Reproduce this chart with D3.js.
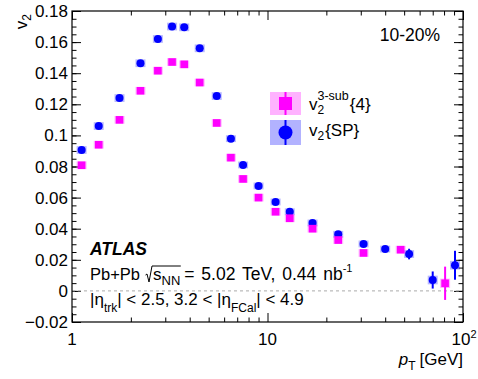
<!DOCTYPE html>
<html>
<head>
  <meta charset="utf-8">
  <title></title>
  <style>
    body,html{
      margin:0;
      padding:0;
      background:#fff;
    }
    text{
      font-family: "Liberation Sans", Arial, Helvetica, sans-serif;
      fill:#000;
    }
  </style>
</head>
<body>
  <div id="container"></div>
  <script src="https://d3js.org/d3.v7.min.js"></script>
  <script type="text/javascript">

    // v2{SP}
    var ptSP   = [1.12, 1.37, 1.75, 2.24, 2.75, 3.25, 3.75, 4.5, 5.5, 6.5, 7.5, 9.0, 11.0, 13.0, 17.0, 23.0, 31.0, 40.0, 53.0, 70.0, 91.0];
    var v2SP   = [0.0906, 0.106, 0.124, 0.1464, 0.162, 0.170, 0.1695, 0.156, 0.1253, 0.0979, 0.081, 0.0675, 0.0572, 0.0509, 0.0437, 0.0364, 0.0302, 0.0269, 0.0237, 0.0070, 0.0165];
    var statSP = [0.0003, 0.0003, 0.0003, 0.0003, 0.0003, 0.0003, 0.0003, 0.0003, 0.0003, 0.0003, 0.0003, 0.0004, 0.0004, 0.0005, 0.0005, 0.0007, 0.0009, 0.0012, 0.0034, 0.0055, 0.0093];
    var sysSP  = [0.0025, 0.0025, 0.0025, 0.0025, 0.0025, 0.0025, 0.0025, 0.0025, 0.0025, 0.0022, 0.0022, 0.0022, 0.0022, 0.0022, 0.0022, 0.0022, 0.0022, 0.0022, 0.0025, 0.0028, 0.0028];

    // v2^{3-sub}{4}
    var pt4    = [1.12, 1.37, 1.75, 2.24, 2.75, 3.25, 3.75, 4.5, 5.5, 6.5, 7.5, 9.0, 11.0, 13.0, 17.0, 23.0, 31.0, 48.0, 81.0];
    var v24    = [0.0808, 0.094, 0.110, 0.1287, 0.1416, 0.1472, 0.1457, 0.134, 0.108, 0.0857, 0.072, 0.060, 0.0509, 0.0467, 0.040, 0.0327, 0.0244, 0.0265, 0.0049];
    var stat4  = [0.0003, 0.0003, 0.0003, 0.0003, 0.0003, 0.0003, 0.0003, 0.0003, 0.0003, 0.0003, 0.0004, 0.0004, 0.0005, 0.0005, 0.0006, 0.0008, 0.0010, 0.0015, 0.0107];
    var sys4   = [0.0025, 0.0025, 0.0025, 0.0025, 0.0025, 0.0025, 0.0025, 0.0025, 0.0025, 0.0025, 0.0025, 0.0025, 0.0025, 0.0025, 0.0025, 0.0025, 0.0025, 0.0025, 0.0030];

    var yMajor = [-0.02, 0, 0.02, 0.04, 0.06, 0.08, 0.1, 0.12, 0.14, 0.16, 0.18];
    var yLabels = ['\u22120.02', '0', '0.02', '0.04', '0.06', '0.08', '0.1', '0.12', '0.14', '0.16', '0.18'];
    var xMajor = [1, 10, 100];
    var xMinor = [2, 3, 4, 5, 6, 7, 8, 9, 20, 30, 40, 50, 60, 70, 80, 90];

    var W = 478, H = 379;
    var padL = 72, padR = 463, padT = 11, padB = 322;
    var fs = 17;

    var svg = d3.select('#container').append('svg').attr('width', W).attr('height', H);

    var x = d3.scaleLog().domain([1, 100]).range([padL, padR]);
    var y = d3.scaleLinear().domain([-0.02, 0.18]).range([padB, padT]);

    var yMinor = d3.range(-0.02, 0.1801, 0.005).map(function(d){ return +d.toFixed(3); });

    // ticks, all four sides, pointing inward
    function tickAxis(axis, tr, vals, size){
      var g = svg.append('g').attr('transform', tr)
        .call(axis.tickValues(vals).tickSizeInner(size).tickSizeOuter(0).tickFormat(''));
      g.select('.domain').remove();
      g.selectAll('line').attr('stroke', '#000');
    }
    tickAxis(d3.axisBottom(x), 'translate(0,' + padB + ')', xMinor, -4.5);
    tickAxis(d3.axisBottom(x), 'translate(0,' + padB + ')', xMajor, -9);
    tickAxis(d3.axisTop(x), 'translate(0,' + padT + ')', xMinor, -4.5);
    tickAxis(d3.axisTop(x), 'translate(0,' + padT + ')', xMajor, -9);
    tickAxis(d3.axisLeft(y), 'translate(' + padL + ',0)', yMinor, -4.5);
    tickAxis(d3.axisLeft(y), 'translate(' + padL + ',0)', yMajor, -9);
    tickAxis(d3.axisRight(y), 'translate(' + padR + ',0)', yMinor, -4.5);
    tickAxis(d3.axisRight(y), 'translate(' + padR + ',0)', yMajor, -9);

    // zero line
    svg.append('line')
      .attr('x1', padL).attr('x2', padR)
      .attr('y1', y(0)).attr('y2', y(0))
      .attr('stroke', '#aaa').attr('stroke-width', 1).attr('stroke-dasharray', '3,3');

    // frame
    svg.append('rect')
      .attr('x', padL).attr('y', padT)
      .attr('width', padR - padL).attr('height', padB - padT)
      .attr('fill', 'none').attr('stroke', '#000').attr('stroke-width', 1.2);

    // y tick labels
    svg.append('g').selectAll('text').data(yMajor).enter().append('text')
      .attr('x', padL - 4)
      .attr('y', function(d){ return y(d) + 6; })
      .attr('text-anchor', 'end')
      .style('font-size', fs + 'px')
      .text(function(d, i){ return yLabels[i]; });

    // x tick labels
    var xl = svg.append('g');
    xl.append('text').attr('x', x(1)).attr('y', 345).attr('text-anchor', 'middle').style('font-size', fs + 'px').text('1');
    xl.append('text').attr('x', x(10)).attr('y', 345).attr('text-anchor', 'middle').style('font-size', fs + 'px').text('10');
    var t100 = xl.append('text').attr('x', x(100) - 11.5).attr('y', 345).style('font-size', fs + 'px');
    t100.append('tspan').text('10');
    t100.append('tspan').attr('dy', -7).style('font-size', '11px').text('2');

    // rich text helper: parts laid out one after another
    function rich(x0, base, parts){
      var g = svg.append('g');
      var cx = x0, lastStart = x0, lastEnd = x0, marks = {};
      parts.forEach(function(p){
        if(p.gap){ cx += p.gap; return; }
        var sx = p.stack ? lastStart : cx;
        var t = g.append('text')
          .attr('x', sx).attr('y', base + (p.dy || 0))
          .style('font-size', (p.size || fs) + 'px')
          .style('font-weight', p.bold ? 'bold' : null)
          .style('font-style', p.italic ? 'italic' : null)
          .style('word-spacing', p.ws ? p.ws + 'px' : null)
          .text(p.t);
        var w = t.node().getComputedTextLength();
        if(p.mark){ marks[p.mark] = [sx, sx + w]; }
        if(p.stack){ cx = Math.max(lastEnd, sx + w); }
        else { lastStart = sx; lastEnd = sx + w; cx = sx + w; }
      });
      return {g: g, end: cx, marks: marks};
    }

    // data: systematic boxes, stat bars, markers
    function series(pts, vals, stat, sys, col, light, square){
      var d = pts.map(function(p, i){ return {x: p, y: vals[i], s: stat[i], b: sys[i]}; });
      var g = svg.append('g');
      g.selectAll('rect.sys').data(d).enter().append('rect')
        .attr('x', function(e){ return x(e.x) - 5; })
        .attr('y', function(e){ return y(e.y + e.b); })
        .attr('width', 10)
        .attr('height', function(e){ return y(e.y - e.b) - y(e.y + e.b); })
        .attr('fill', light);
      g.selectAll('line').data(d).enter().append('line')
        .attr('x1', function(e){ return x(e.x); }).attr('x2', function(e){ return x(e.x); })
        .attr('y1', function(e){ return y(e.y + e.s); }).attr('y2', function(e){ return y(e.y - e.s); })
        .attr('stroke', col).attr('stroke-width', 2);
      if(square){
        g.selectAll('rect.m').data(d).enter().append('rect')
          .attr('x', function(e){ return x(e.x) - 3.8; })
          .attr('y', function(e){ return y(e.y) - 3.8; })
          .attr('width', 7.6).attr('height', 7.6)
          .attr('fill', col);
      } else {
        g.selectAll('circle').data(d).enter().append('circle')
          .attr('cx', function(e){ return x(e.x); })
          .attr('cy', function(e){ return y(e.y); })
          .attr('r', 4)
          .attr('fill', col);
      }
    }
    series(ptSP, v2SP, statSP, sysSP, '#0000ff', 'rgba(0,0,255,0.28)', false);
    series(pt4, v24, stat4, sys4, '#ff00ff', 'rgba(255,0,255,0.28)', true);

    // legend
    var lx = 270, lw = 31;
    svg.append('rect').attr('x', lx).attr('y', 92).attr('width', lw).attr('height', 23).attr('fill', 'rgba(255,0,255,0.3)');
    svg.append('line').attr('x1', lx + lw/2).attr('x2', lx + lw/2).attr('y1', 92).attr('y2', 115).attr('stroke', '#ff00ff').attr('stroke-width', 2);
    svg.append('rect').attr('x', lx + lw/2 - 6.5).attr('y', 103.5 - 6.5).attr('width', 13).attr('height', 13).attr('fill', '#ff00ff');
    svg.append('rect').attr('x', lx).attr('y', 120).attr('width', lw).attr('height', 25).attr('fill', 'rgba(0,0,255,0.3)');
    svg.append('line').attr('x1', lx + lw/2).attr('x2', lx + lw/2).attr('y1', 120).attr('y2', 145).attr('stroke', '#0000ff').attr('stroke-width', 2);
    svg.append('circle').attr('cx', lx + lw/2).attr('cy', 132.5).attr('r', 7).attr('fill', '#0000ff');

    rich(309, 110, [
      {t: 'v', size: 17},
      {t: '2', size: 12, dy: 4},
      {t: '3-sub', size: 12.5, dy: -10, stack: true},
      {gap: 1},
      {t: '{4}', size: 17}
    ]);
    rich(309, 136, [
      {t: 'v', size: 17},
      {t: '2', size: 12, dy: 4},
      {gap: 1},
      {t: '{SP}', size: 17}
    ]);

    // centrality
    svg.append('text').attr('x', 440).attr('y', 41).attr('text-anchor', 'end').style('font-size', '17.5px').text('10-20%');

    // ATLAS block
    rich(90, 255, [{t: 'ATLAS', size: 17.5, bold: true, italic: true}]);
    var l2 = rich(90, 280, [
      {t: 'Pb+Pb', size: 16.5},
      {gap: 13},
      {t: 's', size: 17, mark: 's'},
      {t: 'NN', size: 13, dy: 5, mark: 'nn'},
      {gap: 4},
      {t: '= 5.02 TeV, 0.44 nb', size: 17.5, ws: 2},
      {t: '-1', size: 11, dy: -8}
    ]);
    var sx0 = l2.marks.s[0] - 7.5, sx1 = l2.marks.nn[1] + 0.5;
    svg.append('path')
      .attr('d', 'M' + (sx0) + ',' + (280 - 5) + 'L' + (sx0 + 1.5) + ',' + (280 - 6) +
                 'L' + (sx0 + 3.5) + ',' + (280 + 2) + 'L' + (sx0 + 6.5) + ',' + (280 - 14) +
                 'L' + sx1 + ',' + (280 - 14))
      .attr('fill', 'none').attr('stroke', '#000').attr('stroke-width', 1);

    rich(90, 305, [
      {t: '|\u03b7', size: 17},
      {t: 'trk', size: 12, dy: 7},
      {t: '| < 2.5, 3.2 < |\u03b7', size: 17},
      {t: 'FCal', size: 12, dy: 7},
      {t: '| < 4.9', size: 17}
    ]);

    // axis titles
    var xt = rich(0, 365, [
      {t: 'p', size: 17, italic: true},
      {t: 'T', size: 12, dy: 5},
      {gap: 4},
      {t: '[GeV]', size: 17}
    ]);
    xt.g.attr('transform', 'translate(' + (padR - xt.end) + ',0)');

    var yt = svg.append('text')
      .attr('transform', 'translate(27,14) rotate(-90)')
      .attr('text-anchor', 'end')
      .style('font-size', '17px');
    yt.append('tspan').text('v');
    yt.append('tspan').attr('dy', 4).style('font-size', '12px').text('2');

  </script>
</body>
</html>
